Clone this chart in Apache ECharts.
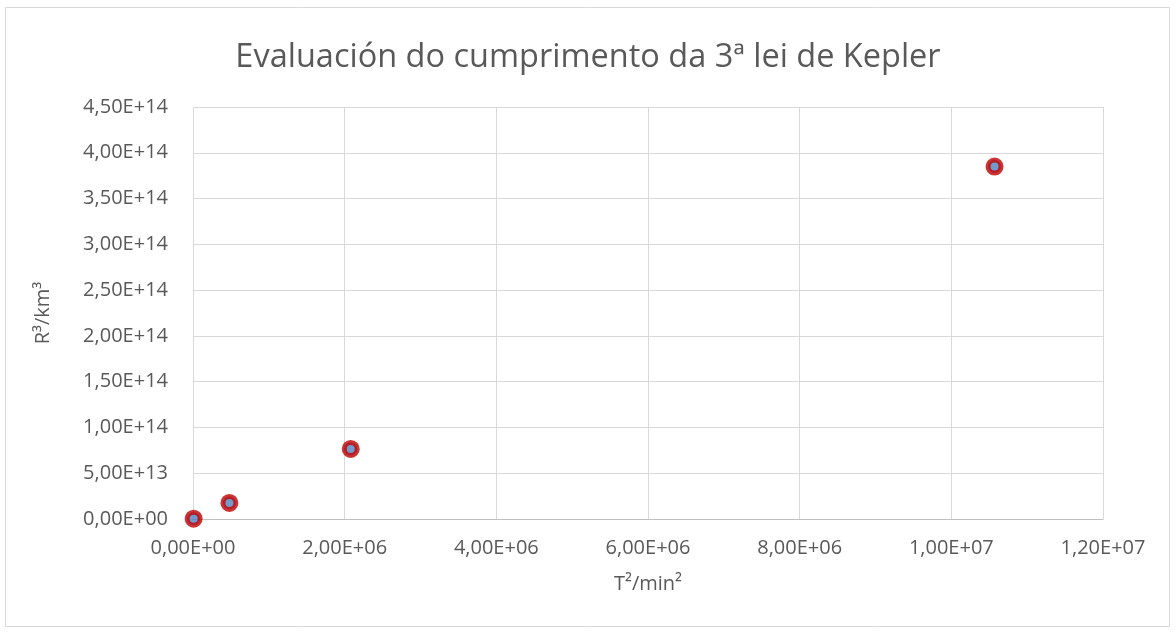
<!DOCTYPE html>
<html><head><meta charset="utf-8">
<script src="https://cdn.jsdelivr.net/npm/echarts@6/dist/echarts.min.js"></script>
<style>html,body{margin:0;padding:0;background:#fff}#c{width:1176px;height:633px}</style>
</head><body><div id="c"></div>
<script>
const titleText = "Evaluación do cumprimento da 3ª lei de Kepler";
const xName = "T²/min²";
const yName = "R³/km³";
const tSquared = [8464, 480000, 2080000, 10570000];
const rCubed = [3.1e11, 1.75e13, 7.65e13, 3.85e14];

function fmt(v){
  if (v === 0) return "0,00E+00";
  let s = v.toExponential(2);
  let [m, e] = s.split("e");
  let sign = e[0] === "-" ? "-" : "+";
  let d = e.replace(/[+-]/, "");
  if (d.length < 2) d = "0" + d;
  return m.replace(".", ",") + "E" + sign + d;
}
const font = "Open Sans";
const chart = echarts.init(document.getElementById('c'));
chart.setOption({
  backgroundColor: '#fff',
  animation: false,
  title: {text: titleText, left: 'center', top: 36,
    textStyle: {fontFamily: font, fontSize: 32.5, fontWeight: 'normal', color: '#595959'}},
  graphic: [{type: 'rect', shape: {x: 5.5, y: 7.5, width: 1164, height: 619},
    style: {fill: 'none', stroke: '#d9d9d9', lineWidth: 1}, silent: true}],
  grid: {left: 193, right: 73, top: 107, bottom: 114},
  xAxis: {type: 'value', min: 0, max: 12000000, interval: 2000000,
    name: xName, nameLocation: 'middle', nameGap: 55,
    nameTextStyle: {fontFamily: font, fontSize: 20, color: '#595959'},
    axisLine: {show: true, lineStyle: {color: '#bfbfbf', width: 1}},
    axisTick: {show: false},
    axisLabel: {formatter: fmt, fontFamily: font, fontSize: 20, color: '#595959', margin: 19},
    splitLine: {show: true, lineStyle: {color: '#d9d9d9', width: 1}}},
  yAxis: {type: 'value', min: 0, max: 4.5e14, interval: 5e13,
    name: yName, nameLocation: 'middle', nameGap: 140, nameRotate: 90,
    nameTextStyle: {fontFamily: font, fontSize: 20, color: '#595959'},
    axisLine: {show: false}, axisTick: {show: false},
    axisLabel: {formatter: fmt, fontFamily: font, fontSize: 20, color: '#595959', margin: 25},
    splitLine: {show: true, lineStyle: {color: '#d9d9d9', width: 1}}},
  series: [{type: 'scatter', data: tSquared.map((x, i) => [x, rCubed[i]]),
    symbol: 'circle', symbolSize: 13,
    itemStyle: {color: '#4f81bd', borderColor: '#c00000', borderWidth: 5}}]
});
</script></body></html>
